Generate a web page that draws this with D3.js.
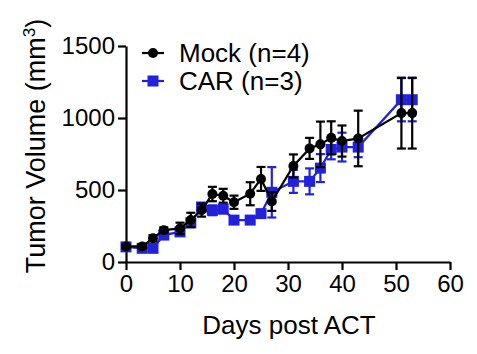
<!DOCTYPE html>
<html>
<head>
<meta charset="utf-8">
<script src="https://cdn.jsdelivr.net/npm/d3@7"></script>
<style>
  body { margin: 0; background: #fff; }
  svg { display: block; font-family: "Liberation Sans", Arial, sans-serif; }
</style>
</head>
<body>
<svg id="chart" width="477" height="354"></svg>
<script>
// Days after ACT where tumors were measured
const days = [0, 3, 5, 7, 10, 12, 14, 16, 18, 20, 23, 25, 27, 31, 34, 36, 38, 40, 43, 51, 53];

// Mock group, mean and SEM (mm3)
const mockMean = [108, 108, 165, 221, 233, 292, 360, 472, 460, 415, 474, 577, 420, 667, 789, 817, 862, 840, 858, 1034, 1034];
const mockSem  = [12, 15, 22, 20, 40, 50, 45, 50, 48, 46, 80, 83, 65, 80, 73, 158, 115, 108, 193, 246, 246];

// CAR group, mean and SEM (mm3)
const carMean = [105, 95, 95, 187, 209, 272, 382, 359, 368, 291, 291, 336, 484, 560, 560, 652, 782, 798, 798, 1127, 1127];
const carSem  = [10, 10, 12, 15, 12, 15, 20, 34, 30, 15, 15, 15, 175, 80, 90, 97, 69, 100, 70, 150, 150];

const yTicks = [0, 500, 1000, 1500];
const xTicks = [0, 10, 20, 30, 40, 50, 60];

const series = [
  { name: "CAR (n=3)", mean: carMean, sem: carSem, color: "#2222dd", shape: "square" },
  { name: "Mock (n=4)", mean: mockMean, sem: mockSem, color: "#000000", shape: "circle" }
];

const svg = d3.select("#chart");

// scales
const x = d3.scaleLinear().domain([0, 60]).range([126, 450]);
const y = d3.scaleLinear().domain([0, 1500]).range([262, 46]);

// axes
const yAxis = svg.append("g")
  .attr("transform", `translate(${x(0)},0)`)
  .call(d3.axisLeft(y).tickValues(yTicks).tickFormat(d3.format("d"))
    .tickSize(8).tickSizeOuter(0).tickPadding(3));

const xAxis = svg.append("g")
  .attr("transform", `translate(0,${y(0)})`)
  .call(d3.axisBottom(x).tickValues(xTicks).tickFormat(d3.format("d"))
    .tickSize(8).tickSizeOuter(0).tickPadding(5));

[yAxis, xAxis].forEach(g => {
  g.selectAll("path, line").attr("stroke", "#000").attr("stroke-width", 2.2);
  g.selectAll("text").attr("fill", "#000").style("font-size", "24px");
});

// axis titles
svg.append("text")
  .attr("transform", `translate(45,146) rotate(-90)`)
  .attr("text-anchor", "middle")
  .style("font-size", "27px")
  .html('Tumor Volume (mm<tspan dy="-10" style="font-size:17px">3</tspan><tspan dy="10">)</tspan>');

svg.append("text")
  .attr("x", 289)
  .attr("y", 334)
  .attr("text-anchor", "middle")
  .style("font-size", "26px")
  .text("Days post ACT");

// draw each series
const marker = (g, s, cx, cy) => {
  if (s.shape === "circle") {
    g.append("circle").attr("cx", cx).attr("cy", cy).attr("r", 5).attr("fill", s.color);
  } else {
    g.append("rect").attr("x", cx - 5.5).attr("y", cy - 5.5).attr("width", 11).attr("height", 11).attr("fill", s.color);
  }
};

series.forEach(s => {
  const g = svg.append("g");
  const pts = days.map((d, i) => ({ d, m: s.mean[i], e: s.sem[i] }));

  // error bars
  pts.forEach(p => {
    const top = y(p.m + p.e), bot = y(p.m - p.e), cx = x(p.d);
    g.append("line").attr("x1", cx).attr("x2", cx).attr("y1", top).attr("y2", bot)
      .attr("stroke", s.color).attr("stroke-width", 2.2);
    [top, bot].forEach(yy => g.append("line")
      .attr("x1", cx - 4.5).attr("x2", cx + 4.5).attr("y1", yy).attr("y2", yy)
      .attr("stroke", s.color).attr("stroke-width", 2.2));
  });

  const line = d3.line().x(p => x(p.d)).y(p => y(p.m));
  g.append("path").datum(pts).attr("d", line)
    .attr("fill", "none").attr("stroke", s.color).attr("stroke-width", 2.2);

  pts.forEach(p => marker(g, s, x(p.d), y(p.m)));
});

// legend
const legend = svg.append("g");
[series[1], series[0]].forEach((s, i) => {
  const ly = 53 + i * 28;
  legend.append("line").attr("x1", 142).attr("x2", 164).attr("y1", ly).attr("y2", ly)
    .attr("stroke", s.color).attr("stroke-width", 2.2);
  marker(legend, s, 153, ly);
  legend.append("text").attr("x", 179).attr("y", ly + 9)
    .style("font-size", "26px").text(s.name);
});
</script>
</body>
</html>
